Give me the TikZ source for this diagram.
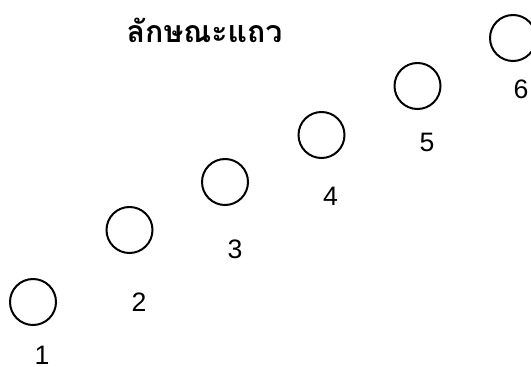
\documentclass[tikz,border=0pt]{standalone}
\usepackage{fontspec}
\setmainfont{Liberation Sans}
\newfontfamily\thaifont[Script=Thai]{Loma}
\usetikzlibrary{positioning}
\tikzset{
  seat/.style={circle,draw=black,line width=1.5pt,minimum size=34.5pt,inner sep=0pt},
  num/.style={font=\fontsize{20}{24}\selectfont,inner sep=0pt},
  heading/.style={font=\thaifont\bfseries\fontsize{22.7}{26}\selectfont,inner sep=0pt},
}
\begin{document}
\begin{tikzpicture}[x=0.75pt,y=-0.75pt]
  \useasboundingbox (0,0) rectangle (531,367);
  \node[heading] (title) at (204.5,30) {ลักษณะแถว};
  % seats along the diagonal, each with its number
  \foreach \cx/\cy/\lx/\ly [count=\i] in {33/302/42/355, 129.5/230/139/302,
      225/182/235/249, 321.5/135/330.5/196, 417.5/86/427/142, 513/38/521/89}
  {
    \node[seat] (c\i) at (\cx,\cy) {};
    \node[num] (n\i) at (\lx,\ly) {\i};
  }
\end{tikzpicture}
\end{document}
